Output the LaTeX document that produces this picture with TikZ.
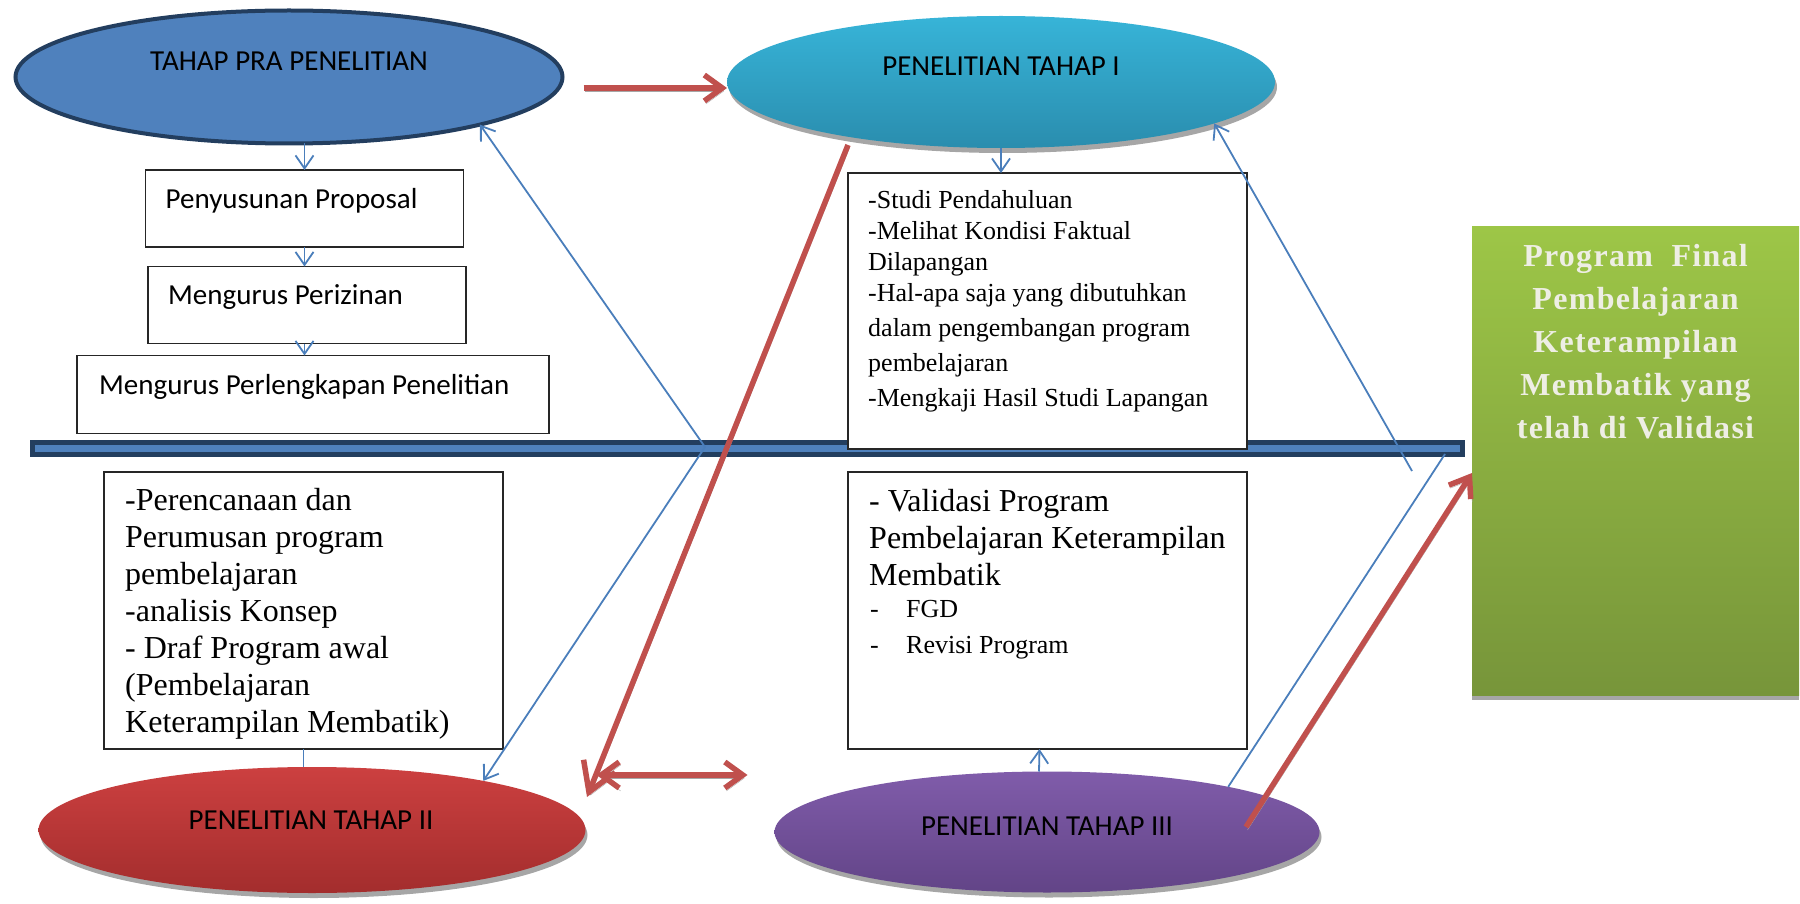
\documentclass[tikz,border=0pt]{standalone}
\usepackage{fontspec}
\setmainfont{Liberation Serif}
\newfontfamily\calfont{Carlito}
\newfontfamily\grnfont[LetterSpace=4]{Liberation Serif}
\usetikzlibrary{arrows.meta,calc,shapes.geometric}
\definecolor{navy}{HTML}{233E5F}
\definecolor{barblue}{HTML}{4F81BD}
\definecolor{eoneblue}{HTML}{4F81BD}
\definecolor{etwotop}{HTML}{37B4D8}
\definecolor{etwobot}{HTML}{2A8DAE}
\definecolor{ethreetop}{HTML}{CC4040}
\definecolor{ethreebot}{HTML}{A32D2D}
\definecolor{efourtop}{HTML}{805CAA}
\definecolor{efourbot}{HTML}{624487}
\definecolor{greentop}{HTML}{9DC647}
\definecolor{greenbot}{HTML}{77953A}
\definecolor{cream}{HTML}{EEEEE4}
\definecolor{shadowgray}{HTML}{A6A6A6}
\definecolor{blueline}{HTML}{4A7EBB}
\definecolor{redarrow}{HTML}{C0504D}
\tikzset{
 box/.style={rectangle, draw=black!85, line width=1.3pt, fill=white, inner sep=0pt, outer sep=0pt},
 ell/.style={ellipse, inner sep=0pt, outer sep=0pt},
 eshadow/.style={preaction={fill=shadowgray, transform canvas={xshift=2pt,yshift=-5pt}}},
 ctext/.style={font=\calfont\fontsize{29}{35}\selectfont, inner sep=0pt},
 stext/.style={font=\fontsize{26}{31}\selectfont, inner sep=0pt, align=left, anchor=base west},
 ltext/.style={font=\fontsize{32}{37}\selectfont, inner sep=0pt, align=left, anchor=base west},
 bline/.style={draw=blueline, line width=1.8pt},
 barrow/.style={bline, -{Straight Barb[length=13pt,width=18pt]}},
 rline/.style={draw=redarrow, line width=5.5pt, preaction={draw=shadowgray, transform canvas={xshift=1.5pt,yshift=-3pt}}},
 rhead/.style={-{Straight Barb[length=18pt,width=26pt]}},
 rbighead/.style={-{Straight Barb[length=28pt,width=34pt]}},
 rdouble/.style={{Straight Barb[length=18pt,width=26pt]}-{Straight Barb[length=18pt,width=26pt]}},
}
\begin{document}
\begin{tikzpicture}[x=1pt,y=-1pt]
\useasboundingbox (0,0) rectangle (1800,904);

% horizontal bar
\node[rectangle, draw=navy, fill=barblue, line width=5pt, minimum width=1430pt, minimum height=12pt, inner sep=0pt, outer sep=0pt] (bar) at (747.5,448.5) {};

% boxes
\node[box, minimum width=318pt, minimum height=77pt] (p1) at (304.5,208.5) {};
\node[box, minimum width=318pt, minimum height=77pt] (p2) at (307,305) {};
\node[box, minimum width=472pt, minimum height=78pt] (p3) at (313,394.5) {};
\node[box, minimum width=399pt, minimum height=276pt] (b1) at (1047.5,311) {};
\node[box, minimum width=399pt, minimum height=277pt] (b2) at (303.5,610.5) {};
\node[box, minimum width=399pt, minimum height=277pt] (b3) at (1047.5,610.5) {};

% green final box
\node[rectangle, inner sep=0pt, outer sep=0pt, minimum width=327pt, minimum height=468pt, top color=greentop, bottom color=greenbot, preaction={fill=shadowgray, transform canvas={yshift=-5pt}}] (gb) at (1635.5,461) {};

% ellipses
\node[ell, draw=navy, line width=4pt, fill=eoneblue, minimum width=547pt, minimum height=133pt] (e1) at (289,77) {};
\node[ell, eshadow, top color=etwotop, bottom color=etwobot, minimum width=548pt, minimum height=132pt] (e2) at (1001,82) {};
\node[ell, eshadow, top color=ethreetop, bottom color=ethreebot, minimum width=547pt, minimum height=126pt] (e3) at (312,830) {};
\node[ell, eshadow, top color=efourtop, bottom color=efourbot, minimum width=545pt, minimum height=121pt] (e4) at (1047,832) {};

% ellipse texts
\node[ctext, anchor=base] (te1) at (289,71) {TAHAP PRA PENELITIAN};
\node[ctext, anchor=base] (te2) at (1001,76) {PENELITIAN TAHAP I};
\node[ctext, anchor=base] (te3) at (311,829) {PENELITIAN TAHAP II};
\node[ctext, anchor=base] (te4) at (1047,835) {PENELITIAN TAHAP III};

% small box texts
\node[ctext, anchor=base west] (tp1) at ($(p1.west)+(20,0)$) {Penyusunan Proposal};
\node[ctext, anchor=base west] (tp2) at ($(p2.west)+(20,0)$) {Mengurus Perizinan};
\node[ctext, anchor=base west] (tp3) at ($(p3.west)+(22,0)$) {Mengurus Perlengkapan Penelitian};

% big box texts (base anchor = last line baseline)
\node[stext] (tb1) at ($(b1.north west)+(20,233)$) {-Studi Pendahuluan\\-Melihat Kondisi Faktual\\Dilapangan\\-Hal-apa saja yang dibutuhkan\\[4pt]dalam pengembangan program\\[4pt]pembelajaran\\[4pt]-Mengkaji Hasil Studi Lapangan};
\node[ltext] (tb2) at ($(b2.north west)+(21,260)$) {-Perencanaan dan\\Perumusan program\\pembelajaran\\-analisis Konsep\\- Draf Program awal\\(Pembelajaran\\Keterampilan Membatik)};
\node[ltext] (tb3) at ($(b3.north west)+(21,113)$) {- Validasi Program\\Pembelajaran Keterampilan\\Membatik};
\node[font=\fontsize{26}{36}\selectfont, inner sep=0pt, align=left, anchor=base west] (tb3l) at ($(b3.north west)+(22,181)$) {\makebox[36pt][l]{-}FGD\\\makebox[36pt][l]{-}Revisi Program};

% green text
\node[font=\grnfont\bfseries\fontsize{32}{43}\selectfont, text=cream, align=center, anchor=base, inner sep=0pt] (gtext) at ($(gb.north)+(0,211)$) {Program\ \ Final\\Pembelajaran\\Keterampilan\\Membatik yang\\telah di Validasi};

% small blue arrows
\draw[barrow] (p1.north |- e1.south) -- (p1.north);
\draw[barrow] (p1.south) -- (p1.south |- p2.north);
\draw[barrow] (p1.south |- p2.south) -- (p1.south |- p3.north);
\draw[barrow] (e2.south) -- (e2.south |- b1.north);
\draw[bline] (b2.south) -- (b2.south |- e3.north);
\draw[barrow] ([xshift=-8pt]e4.north) -- ([xshift=-8pt]b3.south);

% long blue lines
\coordinate (vx) at (705,447);
\coordinate (rx) at (1412,471);
\coordinate (bx) at (1445,454);
\draw[barrow] (vx) -- (e1.-14);
\draw[barrow] (vx) -- (e3.16);
\draw[barrow] (rx) -- (e2.-11);
\draw[bline] (bx) -- (e4.14);

% red arrows
\draw[rline, rhead] ($(e1.east |- e2.west)+(21,6)$) -- ($(e2.west)+(0,6)$);
\coordinate (r2s) at ($(e2.center)+(-153,63)$);
\coordinate (r2e) at (587,797);
\draw[rline, rbighead] (r2s) -- (r2e);
\draw[rline, rdouble] ($(e3.east)+(11,-55)$) -- ($(e4.west)+(-27,-57)$);
\draw[rline, rhead] ($(e4.center)+(199,-5)$) -- ($(gb.west)+(0,12)$);
\end{tikzpicture}
\end{document}
